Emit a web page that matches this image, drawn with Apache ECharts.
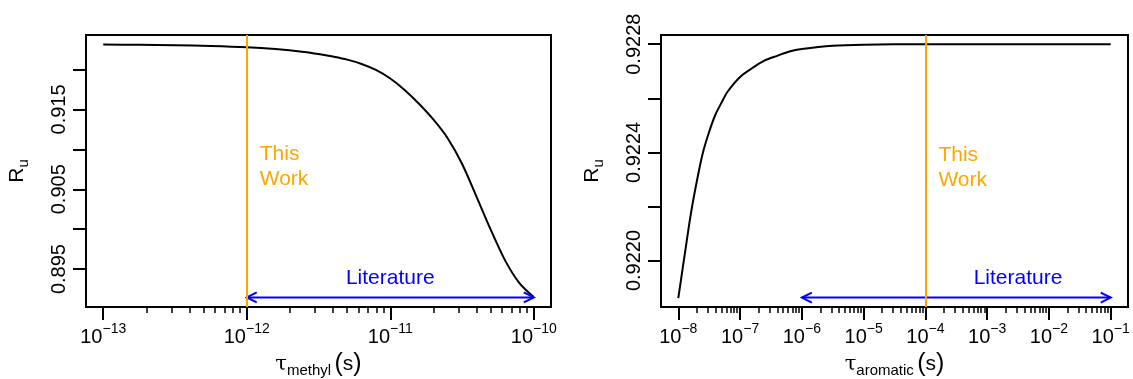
<!DOCTYPE html>
<html>
<head>
<meta charset="utf-8">
<script src="https://cdn.jsdelivr.net/npm/echarts@6/dist/echarts.min.js"></script>
<style>
  html, body { margin: 0; padding: 0; background: #fff; }
  #chart { width: 1133px; height: 379px; }
</style>
</head>
<body>
<div id="chart"></div>
<script>
// left panel: R_u against log10(tau_methyl)
const methylLogTau = [-13, -12.75, -12.5, -12.25, -12, -11.8, -11.6, -11.5, -11.4, -11.3, -11.2, -11.1, -11,
  -10.9, -10.8, -10.7, -10.6, -10.5, -10.4, -10.3, -10.2, -10.1, -10]
const methylRu = [0.92312, 0.92310, 0.92305, 0.92296, 0.92280, 0.92256, 0.92220, 0.92194, 0.92162, 0.92124, 0.92070, 0.91995, 0.91888,
  0.91745, 0.91572, 0.91375, 0.91140, 0.90820, 0.90411, 0.89994, 0.89609, 0.89324, 0.89150]

// right panel: R_u against log10(tau_aromatic)
const aromaticLogTau = [-8, -7.9, -7.8, -7.7, -7.6, -7.5, -7.4, -7.3, -7.2, -7, -6.8, -6.6, -6.4,
  -6.2, -6, -5.5, -5, -4, -3, -2, -1]
const aromaticRu = [0.921861, 0.922016, 0.922168, 0.922293, 0.922400, 0.922476, 0.922539, 0.922584,
  0.922625, 0.922679, 0.922712, 0.922740, 0.922757, 0.922773, 0.922782, 0.922794, 0.922798,
  0.922800, 0.922800, 0.922800, 0.922800]

// axis ticks (x in log10 seconds)
const methylDecades = [-13, -12, -11, -10]
const aromaticDecades = [-8, -7, -6, -5, -4, -3, -2, -1]
const methylYTicks = [0.895, 0.900, 0.905, 0.910, 0.915, 0.920]
const methylYLabels = [0.895, 0.905, 0.915]
const aromaticYTicks = [0.9220, 0.9222, 0.9224, 0.9226, 0.9228]
const aromaticYLabels = [0.9220, 0.9224, 0.9228]

// annotations
const methylThisWork = -12
const aromaticThisWork = -4
const methylLiterature = [-12, -10, 0.89145]
const aromaticLiterature = [-6, -1, 0.921863]
const methylNoteText = ['This\nWork', 'Literature']
const methylNoteX = [-12, -11]
const methylNoteY = [0.90780, 0.89391]
const aromaticNoteText = ['This\nWork', 'Literature']
const aromaticNoteX = [-4, -2.5]
const aromaticNoteY = [0.922345, 0.921936]

const FONT = '"Liberation Sans", Helvetica, Arial, sans-serif'
const ORANGE = '#FFA500'
const BLUE = '#0000FF'

function minorOf(decades) {
  const out = []
  for (let i = 0; i < decades.length - 1; i++) {
    for (let k = 2; k <= 9; k++) out.push(decades[i] + Math.log10(k))
  }
  return out
}

const pow10 = (v) => '{b|10}{s|\u2212' + Math.round(-v) + '}'

function majorX(gridIndex, decades, min, max) {
  return {
    type: 'value', gridIndex, min, max, position: 'bottom',
    axisLine: { show: false },
    splitLine: { show: false },
    axisTick: { show: true, length: 13, lineStyle: { color: '#000', width: 2 }, customValues: decades },
    axisLabel: {
      show: true, margin: 20, customValues: decades, formatter: pow10,
      color: '#000', fontFamily: FONT,
      rich: {
        b: { fontSize: 20, lineHeight: 20, verticalAlign: 'bottom', fontFamily: FONT, color: '#000' },
        s: { fontSize: 14, lineHeight: 14, verticalAlign: 'bottom', padding: [0, 0, 11, 0], fontFamily: FONT, color: '#000' }
      }
    }
  }
}

function minorX(gridIndex, decades, min, max) {
  return {
    type: 'value', gridIndex, min, max, position: 'bottom',
    axisLine: { show: false },
    splitLine: { show: false },
    axisLabel: { show: false },
    axisTick: { show: true, length: 6, lineStyle: { color: '#000', width: 1.5 }, customValues: minorOf(decades) }
  }
}

function titleX(name) {
  return {
    name: '{t|\u03c4}{m|' + name + '} {p|(}{q|s}{p|)}',
    nameLocation: 'middle', nameGap: 45,
    nameTextStyle: {
      color: '#000', fontFamily: FONT,
      rich: {
        t: { fontSize: 21, fontFamily: '"DejaVu Serif", serif', verticalAlign: 'bottom', lineHeight: 24, padding: [0, 0, 3, 0], color: '#000' },
        m: { fontSize: 15, fontFamily: FONT, verticalAlign: 'bottom', lineHeight: 24, color: '#000' },
        p: { fontSize: 25, fontFamily: FONT, verticalAlign: 'bottom', lineHeight: 26, padding: [0, 0, 1, 0], color: '#000' },
        q: { fontSize: 21, fontFamily: FONT, verticalAlign: 'bottom', lineHeight: 24, padding: [0, 0, 3, 0], color: '#000' }
      }
    }
  }
}

function yAxis(gridIndex, min, max, ticks, labels, digits) {
  return {
    type: 'value', gridIndex, min, max,
    axisLine: { show: false },
    splitLine: { show: false },
    axisTick: { show: true, length: 13, lineStyle: { color: '#000', width: 2 }, customValues: ticks },
    axisLabel: {
      show: true, rotate: 90, margin: 17, customValues: labels,
      formatter: (v) => v.toFixed(digits),
      fontSize: 20, color: '#000', fontFamily: FONT
    },
    name: '{r|R}{u|u}', nameLocation: 'middle', nameGap: 55, nameRotate: 90,
    nameTextStyle: {
      color: '#000',
      rich: {
        r: { fontSize: 21, fontFamily: FONT, verticalAlign: 'bottom', lineHeight: 24, padding: [0, 0, 3, 0], color: '#000' },
        u: { fontSize: 15, fontFamily: FONT, verticalAlign: 'bottom', lineHeight: 24, color: '#000' }
      }
    }
  }
}

function renderArrow(params, api) {
  const a = api.coord([api.value(0), api.value(2)])
  const b = api.coord([api.value(1), api.value(2)])
  const L = 10, H = 5
  const style = { stroke: BLUE, lineWidth: 2, fill: null }
  return {
    type: 'group',
    children: [
      { type: 'line', shape: { x1: a[0], y1: a[1], x2: b[0], y2: b[1] }, style },
      { type: 'polyline', shape: { points: [[a[0] + L, a[1] - H], [a[0], a[1]], [a[0] + L, a[1] + H]] }, style },
      { type: 'polyline', shape: { points: [[b[0] - L, b[1] - H], [b[0], b[1]], [b[0] - L, b[1] + H]] }, style }
    ]
  }
}

function noteRenderer(texts) {
  return function (params, api) {
    const p = api.coord([api.value(0), api.value(1)])
    const first = params.dataIndex === 0
    return {
      type: 'text',
      x: first ? p[0] + 13 : p[0],
      y: p[1],
      style: {
        text: texts[params.dataIndex],
        fill: first ? ORANGE : BLUE,
        fontSize: 21, fontFamily: FONT, lineHeight: 25,
        align: first ? 'left' : 'center', verticalAlign: 'middle'
      }
    }
  }
}

function panelSeries(xIdx, yIdx, xs, ys, thisWork, lit, noteX, noteY, noteText) {
  return [
    {
      type: 'line', xAxisIndex: xIdx, yAxisIndex: yIdx,
      data: xs.map((x, i) => [x, ys[i]]),
      showSymbol: false, smooth: 0.3,
      lineStyle: { color: '#000', width: 2 },
      z: 3,
      markLine: {
        silent: true, symbol: 'none', animation: false,
        label: { show: false },
        lineStyle: { color: ORANGE, width: 2, type: 'solid' },
        data: [{ xAxis: thisWork }]
      }
    },
    {
      type: 'custom', xAxisIndex: xIdx, yAxisIndex: yIdx,
      data: [lit], encode: { x: [0, 1], y: 2 },
      renderItem: renderArrow, z: 4
    },
    {
      type: 'custom', xAxisIndex: xIdx, yAxisIndex: yIdx,
      data: noteX.map((x, i) => [x, noteY[i]]), encode: { x: 0, y: 1 },
      renderItem: noteRenderer(noteText), z: 4
    }
  ]
}

const chart = echarts.init(document.getElementById('chart'), null, { renderer: 'canvas' })

const box = { show: true, borderColor: '#000', borderWidth: 2, backgroundColor: 'transparent', containLabel: false, outerBoundsMode: 'none' }

chart.setOption({
  animation: false,
  backgroundColor: '#fff',
  grid: [
    Object.assign({ left: 86, top: 35, width: 465, height: 272 }, box),
    Object.assign({ left: 661, top: 35, width: 467, height: 272 }, box)
  ],
  xAxis: [
    Object.assign(majorX(0, methylDecades, -13.12, -9.88), titleX('methyl')),
    minorX(0, methylDecades, -13.12, -9.88),
    Object.assign(majorX(1, aromaticDecades, -8.28, -0.72), titleX('aromatic')),
    minorX(1, aromaticDecades, -8.28, -0.72)
  ],
  yAxis: [
    yAxis(0, 0.89025, 0.924325, methylYTicks, methylYLabels, 3),
    yAxis(1, 0.921828, 0.922834, aromaticYTicks, aromaticYLabels, 4)
  ],
  series: [
    ...panelSeries(0, 0, methylLogTau, methylRu, methylThisWork, methylLiterature, methylNoteX, methylNoteY, methylNoteText),
    ...panelSeries(2, 1, aromaticLogTau, aromaticRu, aromaticThisWork, aromaticLiterature, aromaticNoteX, aromaticNoteY, aromaticNoteText)
  ]
})
</script>
</body>
</html>
